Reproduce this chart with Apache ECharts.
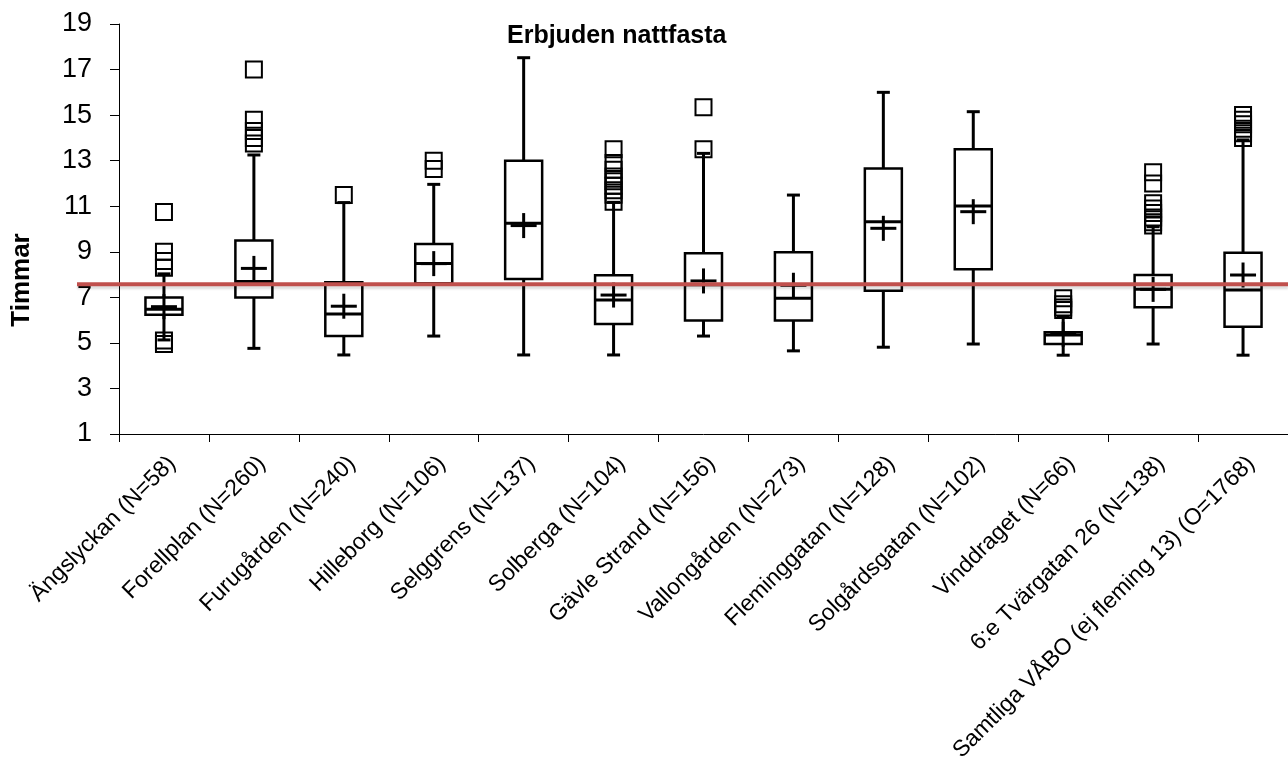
<!DOCTYPE html>
<html>
<head>
<meta charset="utf-8">
<script src="https://cdn.jsdelivr.net/npm/echarts@6/dist/echarts.min.js"></script>
<style>html,body{margin:0;padding:0;background:#fff;}#c{width:1288px;height:778px;}</style>
</head>
<body>
<div id="c"></div>
<script>
const categories = ['Ängslyckan (N=58)','Forellplan (N=260)','Furugården (N=240)','Hilleborg (N=106)','Selggrens (N=137)','Solberga (N=104)','Gävle Strand (N=156)','Vallongården (N=273)','Fleminggatan (N=128)','Solgårdsgatan (N=102)','Vinddraget (N=66)','6:e Tvärgatan 26 (N=138)','Samtliga VÅBO (ej fleming 13) (O=1768)'];
const whiskerLow  = [5.13, 4.76, 4.47, 5.30, 4.47, 4.47, 5.30, 4.65, 4.81, 4.95, 4.46, 4.95, 4.46];
const q1          = [6.24, 6.99, 5.30, 7.62, 7.81, 5.83, 5.98, 5.98, 7.29, 8.23, 4.95, 6.56, 5.71];
const median      = [6.48, 7.69, 6.27, 8.49, 10.25, 6.88, 7.55, 6.96, 10.32, 11.01, 5.35, 7.35, 7.32];
const q3          = [6.99, 9.49, 7.66, 9.34, 13.00, 7.97, 8.93, 8.98, 12.66, 13.50, 5.47, 7.98, 8.96];
const whiskerHigh = [8.03, 13.25, 11.16, 11.96, 17.52, 11.17, 13.32, 11.49, 16.00, 15.15, 6.15, 10.10, 13.91];
const mean        = [6.59, 8.27, 6.61, 8.48, 10.15, 7.10, 7.72, 7.53, 10.03, 10.76, 5.38, 7.35, 7.98];
const outliers = [
  [10.75, 9.0, 8.6, 8.3, 5.1, 4.95],
  [17.0, 14.8, 14.3, 14.0, 13.75],
  [11.49],
  [13.0, 12.63],
  [],
  [13.5, 12.9, 12.6, 12.3, 12.1, 11.9, 11.7, 11.5, 11.2],
  [15.34, 13.5],
  [],
  [],
  [],
  [6.96, 6.7, 6.55, 6.44],
  [12.49, 12.0, 11.13, 10.9, 10.7, 10.5, 10.3, 10.15],
  [15.0, 14.8, 14.6, 14.4, 14.2, 14.0]
];
const referenceLine = 7.57;
const yTicks = {min: 1, max: 19, interval: 2};
const titleText = 'Erbjuden nattfasta';
const yAxisName = 'Timmar';

const boxData = categories.map((c, i) => [i, whiskerLow[i], q1[i], median[i], q3[i], whiskerHigh[i], mean[i]]);
const outlierData = [];
outliers.forEach((arr, i) => arr.forEach(v => outlierData.push([i, v])));

const chart = echarts.init(document.getElementById('c'));
const FONT = '"Liberation Sans", Arial, sans-serif';

function renderBox(params, api) {
  const i = api.value(0);
  const x = api.coord([i, 0])[0];
  const y = k => api.coord([i, api.value(k)])[1];
  const yLow = y(1), yQ1 = y(2), yMed = y(3), yQ3 = y(4), yHigh = y(5), yMean = y(6);
  const bw = 37, cap = 6.5, ch = 13, cv = 12.5;
  const ls = {stroke: '#000', lineWidth: 3};
  return {
    type: 'group',
    children: [
      {type: 'line', shape: {x1: x, y1: yLow, x2: x, y2: yQ1}, style: ls},
      {type: 'line', shape: {x1: x, y1: yQ3, x2: x, y2: yHigh}, style: ls},
      {type: 'line', shape: {x1: x - cap, y1: yLow, x2: x + cap, y2: yLow}, style: ls},
      {type: 'line', shape: {x1: x - cap, y1: yHigh, x2: x + cap, y2: yHigh}, style: ls},
      {type: 'rect', shape: {x: x - bw / 2, y: yQ3, width: bw, height: yQ1 - yQ3}, style: {fill: '#fff', stroke: '#000', lineWidth: 2.5}},
      {type: 'line', shape: {x1: x - bw / 2, y1: yMed, x2: x + bw / 2, y2: yMed}, style: ls},
      {type: 'line', shape: {x1: x - ch, y1: yMean, x2: x + ch, y2: yMean}, style: ls},
      {type: 'line', shape: {x1: x, y1: yMean - cv, x2: x, y2: yMean + cv}, style: ls}
    ]
  };
}

chart.setOption({
  animation: false,
  backgroundColor: '#fff',
  title: {
    text: titleText, left: 507, top: 24, padding: 0,
    textStyle: {fontFamily: FONT, fontSize: 25, fontWeight: 'bold', color: '#000'}
  },
  grid: {left: 119, top: 24, right: -13, bottom: 344, containLabel: false},
  xAxis: {
    type: 'category', data: categories, boundaryGap: true,
    axisLine: {lineStyle: {color: '#000', width: 1}},
    axisTick: {show: true, alignWithLabel: false, length: 8, lineStyle: {color: '#000'}},
    axisLabel: {rotate: 45, interval: 0, margin: 18, verticalAlign: 'top', fontFamily: FONT, fontSize: 23, color: '#000'},
    splitLine: {show: false}
  },
  yAxis: {
    type: 'value', min: yTicks.min, max: yTicks.max, interval: yTicks.interval,
    axisLine: {show: true, lineStyle: {color: '#000', width: 1}},
    axisTick: {show: true, inside: false, length: 9, lineStyle: {color: '#000'}},
    axisLabel: {margin: 27, fontFamily: FONT, fontSize: 27, color: '#000'},
    splitLine: {show: false}
  },
  series: [
    {
      type: 'custom', name: 'box', data: boxData,
      encode: {x: 0, y: [1, 2, 3, 4, 5, 6]},
      renderItem: renderBox, z: 2
    },
    {
      type: 'scatter', name: 'outliers', data: outlierData,
      symbol: 'rect', symbolSize: 16,
      itemStyle: {color: 'rgba(0,0,0,0)', borderColor: '#000', borderWidth: 2, opacity: 1},
      z: 3
    }
  ]
});

const yRef = chart.convertToPixel({yAxisIndex: 0}, referenceLine);
chart.setOption({
  graphic: [
    {
      type: 'line', z: 100,
      shape: {x1: 77, y1: yRef, x2: 1288, y2: yRef},
      style: {stroke: '#C0504D', lineWidth: 4, shadowColor: 'rgba(0,0,0,0.12)', shadowBlur: 2, shadowOffsetY: 3}
    },
    {
      type: 'text', x: 22, y: 280, rotation: Math.PI / 2, z: 100,
      style: {text: yAxisName, fontFamily: FONT, fontSize: 26, fontWeight: 'bold', fill: '#000', align: 'center', verticalAlign: 'middle'}
    }
  ]
});
</script>
</body>
</html>
